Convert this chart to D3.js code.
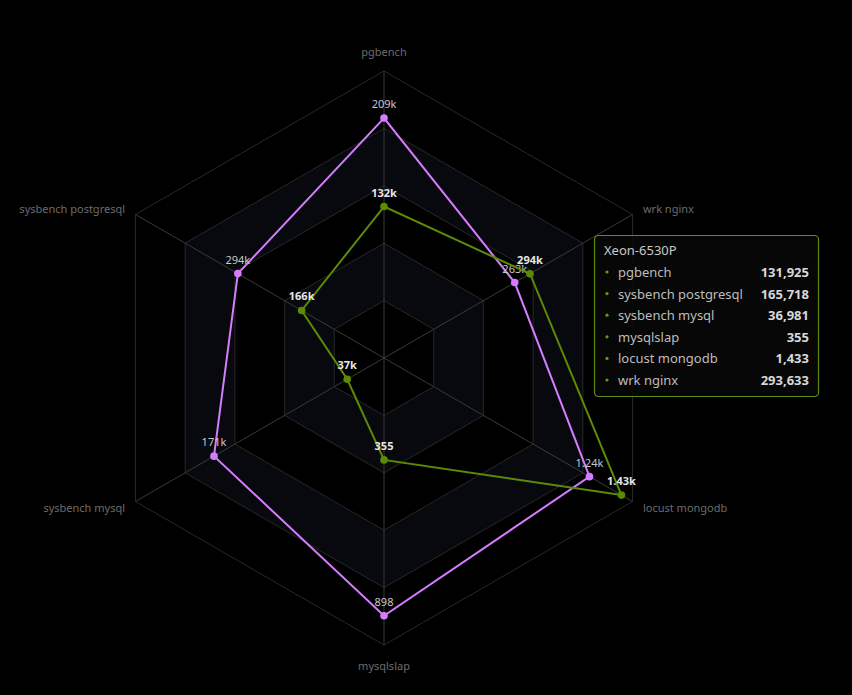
<!DOCTYPE html>
<html>
<head>
<meta charset="utf-8">
<script src="https://cdn.jsdelivr.net/npm/d3@7"></script>
<style>
  html, body { margin: 0; padding: 0; background: #000; }
  svg { display: block; font-family: "Noto Sans", "Open Sans", sans-serif; }
</style>
</head>
<body>
<div id="chart"></div>
<script>
// benchmark axes, counter-clockwise from the top
var indicators = ['pgbench', 'sysbench postgresql', 'sysbench mysql', 'mysqlslap', 'locust mongodb', 'wrk nginx'];
var axisMax = [250000, 500000, 250000, 1000, 1500, 500000];

var seriesNames = ['Reference', 'Xeon-6530P'];
var referenceValues = [209000, 294000, 171000, 898, 1240, 263000];
var xeonValues = [131925, 165718, 36981, 355, 1433, 293633];

var width = 852, height = 695;
var cx = 384, cy = 358, R = 287;
var levels = 5;

var svg = d3.select('#chart').append('svg')
    .attr('width', width)
    .attr('height', height);

svg.append('rect').attr('width', width).attr('height', height).attr('fill', '#000');

var angle = function(i) { return Math.PI / 2 + i * Math.PI / 3; };
var scales = axisMax.map(function(m) {
    return d3.scaleLinear().domain([0, m]).range([0, R]);
});
var pt = function(i, r) {
    return [cx + r * Math.cos(angle(i)), cy - r * Math.sin(angle(i))];
};
var ringPath = function(r) {
    return indicators.map(function(d, i) { return pt(i, r); });
};
var line = d3.line().curve(d3.curveLinearClosed);

// split areas, every other ring slightly tinted
var g = svg.append('g');
for (var k = levels; k >= 1; k--) {
    var outer = ringPath(R * k / levels);
    var inner = ringPath(R * (k - 1) / levels);
    g.append('path')
        .attr('d', line(outer) + (k > 1 ? line(inner.slice().reverse()) : ''))
        .attr('fill', k % 2 === 0 ? '#08090e' : 'none')
        .attr('fill-rule', 'evenodd');
}
for (var k = 1; k <= levels; k++) {
    g.append('path')
        .attr('d', line(ringPath(R * k / levels)))
        .attr('fill', 'none')
        .attr('stroke', '#282828')
        .attr('stroke-width', 1);
}
indicators.forEach(function(d, i) {
    var p = pt(i, R);
    g.append('line')
        .attr('x1', cx).attr('y1', cy)
        .attr('x2', p[0]).attr('y2', p[1])
        .attr('stroke', '#3a3a3a')
        .attr('stroke-width', 1);
});

// axis names
indicators.forEach(function(d, i) {
    var c = Math.cos(angle(i)), s = Math.sin(angle(i));
    var vertical = Math.abs(c) < 0.01;
    var p = pt(i, R + (vertical ? 20 : 12));
    svg.append('text')
        .attr('x', p[0]).attr('y', p[1])
        .attr('text-anchor', vertical ? 'middle' : (c > 0 ? 'start' : 'end'))
        .attr('dominant-baseline', 'central')
        .attr('fill', '#6c6c6c')
        .style('font-size', '11px')
        .text(d);
});

var fmt = function(v) { return d3.format('.3~s')(v); };

var series = [
    { name: seriesNames[0], values: referenceValues, color: '#d67cff', labelColor: '#c8c8c8', weight: 'normal' },
    { name: seriesNames[1], values: xeonValues, color: '#5c8a05', labelColor: '#e6e6e6', weight: 'bold' }
];

series.forEach(function(sr) {
    var pts = sr.values.map(function(v, i) { return pt(i, scales[i](v)); });
    var sg = svg.append('g');
    sg.append('path')
        .attr('d', line(pts))
        .attr('fill', 'none')
        .attr('stroke', sr.color)
        .attr('stroke-width', 2);
    sg.selectAll('circle').data(pts).enter().append('circle')
        .attr('cx', function(d) { return d[0]; })
        .attr('cy', function(d) { return d[1]; })
        .attr('r', 3.8)
        .attr('fill', sr.color);
    sg.selectAll('text').data(pts).enter().append('text')
        .attr('x', function(d) { return d[0]; })
        .attr('y', function(d) { return d[1] - 10; })
        .attr('text-anchor', 'middle')
        .attr('fill', sr.labelColor)
        .style('font-size', '11px')
        .style('font-weight', sr.weight)
        .text(function(d, i) { return fmt(sr.values[i]); });
});

// tooltip for the hovered Xeon series
var tip = svg.append('g').attr('transform', 'translate(594,235)');
tip.append('rect')
    .attr('x', 0.5).attr('y', 0.5)
    .attr('width', 224).attr('height', 161)
    .attr('rx', 4)
    .attr('fill', 'rgba(8,8,8,0.92)')
    .attr('stroke', '#5e8a12')
    .attr('stroke-width', 1.2);
tip.append('text')
    .attr('x', 10).attr('y', 20)
    .attr('fill', '#c8c8c8')
    .style('font-size', '13px')
    .text(seriesNames[1]);
indicators.forEach(function(d, i) {
    var y = 37 + i * 21.6;
    tip.append('circle').attr('cx', 13).attr('cy', y).attr('r', 1.6).attr('fill', '#6a9a10');
    tip.append('text')
        .attr('x', 24).attr('y', y)
        .attr('dominant-baseline', 'central')
        .attr('fill', '#bdbdbd')
        .style('font-size', '13px')
        .text(d);
    tip.append('text')
        .attr('x', 215).attr('y', y)
        .attr('text-anchor', 'end')
        .attr('dominant-baseline', 'central')
        .attr('fill', '#d8d8d8')
        .style('font-size', '13px')
        .style('font-weight', 'bold')
        .text(d3.format(',')(xeonValues[i]));
});
</script>
</body>
</html>
